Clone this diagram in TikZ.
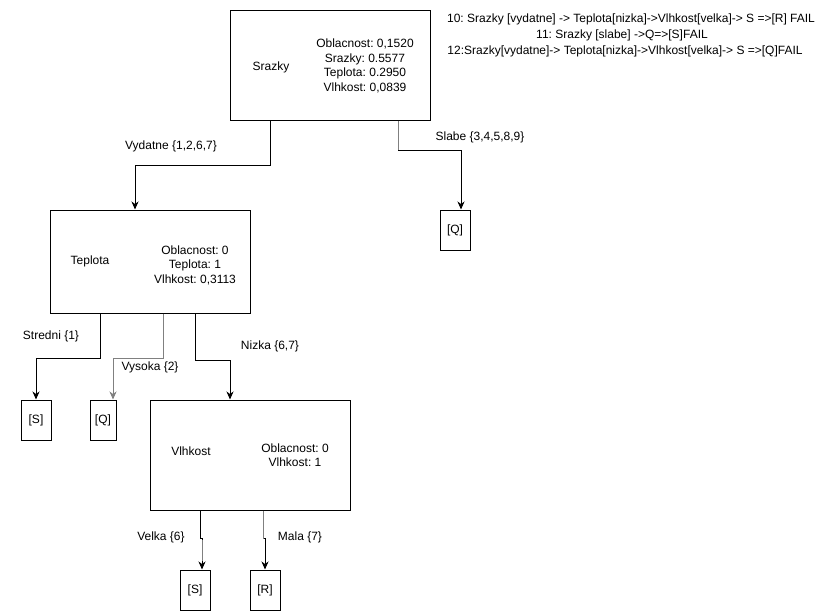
\documentclass[tikz,border=0pt]{standalone}
\usepackage{fontspec}
\setmainfont{Liberation Sans}
\usetikzlibrary{arrows.meta}
\frenchspacing
\begin{document}
\begin{tikzpicture}[x=1pt,y=-1pt,
  every node/.style={font=\fontsize{12}{14.5}\selectfont\frenchspacing, inner sep=0pt},
  bigbox/.style={draw, line width=1pt, minimum width=200pt, rectangle},
  leaf/.style={draw, line width=1pt, minimum width=30pt, minimum height=40pt, rectangle},
  conn/.style={line width=1pt, -{Stealth[length=8pt,width=7pt,inset=2.5pt]}},
  grayseg/.style={line width=1pt, draw={rgb,255:red,128;green,128;blue,128}},
  stats/.style={align=center},
  lbl/.style={anchor=center}]
\useasboundingbox (0,0) rectangle (831,611);
% main boxes
\node[bigbox, minimum height=110pt] (sr) at (330,65) {};
\node[bigbox, minimum height=103pt] (tp) at (150,261.5) {};
\node[bigbox, minimum height=110pt] (vl) at (250,455) {};
% leaves
\node[leaf] (q1) at (455,230) {[Q]};
\node[leaf, minimum width=30pt] (s1) at (36,420) {[S]};
\node[leaf, minimum width=26pt] (q2) at (103,420) {[Q]};
\node[leaf] (s2) at (195,590) {[S]};
\node[leaf] (r) at (265,590) {[R]};
% box texts
\node (srn) at (271,67) {Srazky};
\node[stats] (srs) at (365,66) {Oblacnost: 0,1520\\Srazky: 0.5577\\Teplota: 0.2950\\Vlhkost: 0,0839};
\node (tpn) at (90,261) {Teplota};
\node[stats] (tps) at (195,265) {Oblacnost: 0\\Teplota: 1\\Vlhkost: 0,3113};
\node (vln) at (191,451) {Vlhkost};
\node[stats] (vls) at (295,455) {Oblacnost: 0\\Vlhkost: 1};
% connectors
\draw[conn] ([xshift=-60pt]sr.south) -- ++(0,45) -| ([xshift=-15pt]tp.north);
\draw[conn] ([xshift=68pt]sr.south) -- ++(0,30) -| ([xshift=6pt]q1.north);
\draw[grayseg] ([xshift=68pt]sr.south) -- ++(0,29);
\draw[conn] ([xshift=-50pt]tp.south) -- ++(0,45) -| (s1.north);
\draw[conn, draw={rgb,255:red,128;green,128;blue,128}] ([xshift=13pt]tp.south) -- ++(0,45) -| ([xshift=10pt]q2.north);
\draw[conn] ([xshift=45pt]tp.south) -- ++(0,47) -| ([xshift=-20pt]vl.north);
\draw[conn] ([xshift=-50pt]vl.south) -- ++(0,28) -| ([xshift=7pt]s2.north);
\draw[grayseg] ([xshift=7pt,yshift=-29pt]vl.south -| s2.north) -- ([xshift=7pt,yshift=9pt]s2.north);
\draw[conn] ([xshift=13pt]vl.south) -- ++(0,28) -| (r.north);
\draw[grayseg] ([xshift=13pt]vl.south) -- ++(0,28);
% edge labels
\node[lbl] (l1) at (171,146) {Vydatne \{1,2,6,7\}};
\node[lbl] (l2) at (480,137) {Slabe \{3,4,5,8,9\}};
\node[lbl] (l3) at (51,336) {Stredni \{1\}};
\node[lbl] (l4) at (150,367) {Vysoka \{2\}};
\node[lbl] (l5) at (270,346) {Nizka \{6,7\}};
\node[lbl] (l6) at (161,537) {Velka \{6\}};
\node[lbl] (l7) at (300,537) {Mala \{7\}};
% notes
\node[lbl] (n1) at (631,19) {10: Srazky [vydatne] -> Teplota[nizka]->Vlhkost[velka]-> S =>[R] FAIL};
\node[lbl] (n2) at (622,35) {11: Srazky [slabe] ->Q=>[S]FAIL};
\node[lbl] (n3) at (625,51) {12:Srazky[vydatne]-> Teplota[nizka]->Vlhkost[velka]-> S =>[Q]FAIL};
\end{tikzpicture}
\end{document}
